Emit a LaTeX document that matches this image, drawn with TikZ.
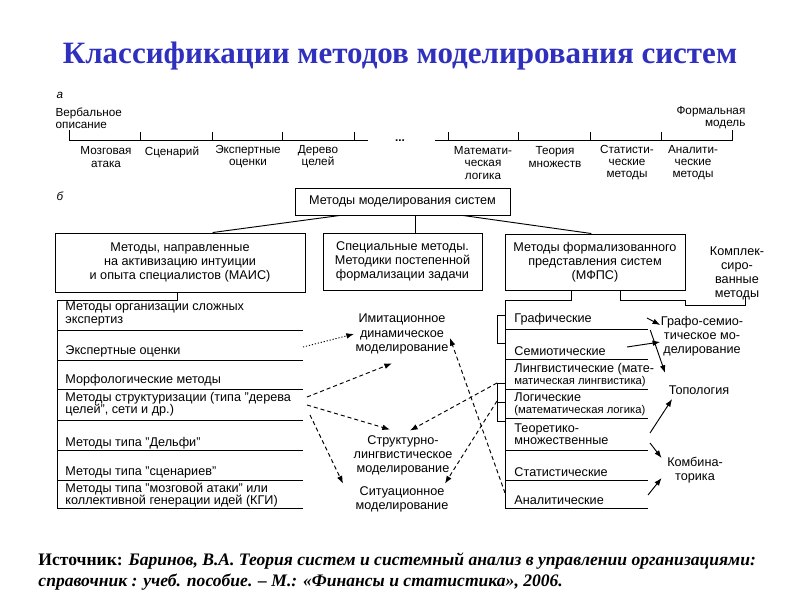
\documentclass[tikz,border=0pt]{standalone}
\usepackage{fontspec}
\setmainfont{Liberation Sans}
\newfontfamily\srf{Liberation Serif}
\usetikzlibrary{arrows.meta,calc}
\definecolor{ttlblue}{RGB}{48,48,190}
\newcommand\dgf{\fontsize{10.8}{12}\selectfont}
\newcommand\dgs{\fontsize{10.8}{10.4}\selectfont}
\newcommand\dga{\fontsize{10}{10.3}\selectfont}
\newcommand\dgm{\fontsize{9.6}{10.2}\selectfont}
\tikzset{
  >={Latex[length=2.3mm,width=1.7mm]},
  bx/.style 2 args={draw,minimum width=#1*0.3mm,minimum height=#2*0.3mm,align=center,inner sep=1pt,font=\dgf},
  al/.style={align=center,inner sep=1pt,font=\dga},
  rw/.style={anchor=west,align=left,inner sep=0pt,font=\dgs},
  ml/.style={align=center,inner sep=1pt,font=\dgf},
  da/.style={->,dash pattern=on 3.5pt off 2.5pt},
  every picture/.style={line width=0.8pt},
}
\begin{document}
\begin{tikzpicture}[x=0.3mm,y=-0.3mm]
\useasboundingbox (0,0) rectangle (800,600);
\node[font=\srf\bfseries\fontsize{26.5}{30}\selectfont,text=ttlblue] (title) at (400,56) {Классификации методов моделирования систем};

\node[al,font=\dga\itshape] (pa) at (60,95) {а};
\node[al,anchor=west,align=left] (verb) at (54,118) {Вербальное\\описание};
\node[al,anchor=east,align=right] (form) at (747,118) {Формальная\\модель};
\draw (69,130)--(69,140)--(368,140); \foreach \x in {140,212,282,354} \draw (\x,140)--(\x,132);
\draw (435,140)--(732,140)--(732,130); \foreach \x in {448,518,590,661} \draw (\x,140)--(\x,132);
\node[font=\bfseries,anchor=base] (dots) at (400,142) {...};
\node[al] (mz) at (106,157) {Мозговая\\атака}; \node[al] (sc) at (172,152) {Сценарий};
\node[al] (ex) at (248,157) {Экспертные\\оценки}; \node[al] (dr) at (318,157) {Дерево\\целей};
\node[al] (ml) at (483,163) {Математи-\\ческая\\логика}; \node[al] (tm) at (555,157) {Теория\\множеств};
\node[al] (st) at (627,163) {Статисти-\\ческие\\методы}; \node[al] (an) at (693,163) {Аналити-\\ческие\\методы};

\node[al,font=\dga\itshape] (pb) at (60,196) {б};
\node[bx={215}{27}] (top) at (402.5,201.5) {Методы моделирования систем};
\node[bx={250}{59}] (mais) at (180,262.5) {Методы, направленные\\на активизацию интуиции\\и опыта специалистов (МАИС)};
\node[bx={159}{57}] (spec) at (402.5,261.5) {Специальные методы.\\Методики постепенной\\формализации задачи};
\node[bx={180}{56}] (mfps) at (595,262) {Методы формализованного\\представления систем\\(МФПС)};
\node[ml] (kompl) at (737,273) {Комплек-\\сиро-\\ванные\\методы};
\draw ($(top.south west)!.21!(top.south east)$) -- ($(mais.north west)!.63!(mais.north east)$);
\draw ($(top.south west)!.56!(top.south east)$) coordinate (t2) -- (t2 |- spec.north);
\draw ($(top.south west)!.78!(top.south east)$) -- ($(mfps.north west)!.48!(mfps.north east)$);

\coordinate (lt) at (57,300); \coordinate (rt) at (505,300);
\draw ($(mais.south west)!.49!(mais.south east)$) coordinate (m1) -- (m1 |- lt) -- (lt) -- (57,508);
\foreach \y in {330,360,389,420,450,480,508} \draw (57,\y)--(303,\y);
\node[rw] (l1) at (65,314) {Методы организации сложных\\экспертиз};
\node[rw] (l2) at (65,351) {Экспертные оценки};
\node[rw] (l3) at (65,380) {Морфологические методы};
\node[rw] (l4) at (65,404) {Методы структуризации (типа "дерева\\целей", сети и др.)};
\node[rw] (l5) at (65,443) {Методы типа "Дельфи"};
\node[rw] (l6) at (65,472) {Методы типа "сценариев"};
\node[rw] (l7) at (65,495) {Методы типа "мозговой атаки" или\\коллективной генерации идей (КГИ)};

\draw ($(mfps.south west)!.37!(mfps.south east)$) coordinate (f1) -- (f1 |- rt) -- (rt) -- (505,508);
\draw ($(mfps.south west)!.64!(mfps.south east)$) coordinate (f2) -- (f2 |- rt) -- (685,300) -- (685,305) -- (745,305) -- (745,297);
\foreach \y in {329,359,389,418,450,480,508} \draw (505,\y)--(648,\y);
\draw (505,315)--(497,315)--(497,343)--(505,343); \draw (505,383)--(497,383)--(497,421)--(505,421); \draw (497,402)--(505,402);
\node[rw] (g1) at (514,319) {Графические};
\node[rw] (g2) at (514,351) {Семиотические};
\node[rw] (g3) at (514,375) {Лингвистические (мате-\\{\dgm матическая лингвистика)}};
\node[rw] (g4) at (514,404) {Логические\\{\dgm (математическая логика)}};
\node[rw] (g5) at (514,434) {Теоретико-\\множественные};
\node[rw] (g6) at (514,472) {Статистические};
\node[rw] (g7) at (514,500) {Аналитические};

\node[ml] (imit) at (402,334) {Имитационное\\динамическое\\моделирование};
\node[ml] (strk) at (403,455) {Структурно-\\лингвистическое\\моделирование};
\node[ml] (sit) at (402,499) {Ситуационное\\моделирование};
\node[ml] (grs) at (702,336) {Графо-семио-\\тическое мо-\\делирование};
\node[ml] (topo) at (699,390) {Топология};
\node[ml] (komb) at (695,470) {Комбина-\\торика};

\coordinate (s1) at (303,347); \coordinate (s2) at (307,397); \coordinate (s3) at (307,405);
\coordinate (s4) at (310,415); \coordinate (s5) at (505,493);
\coordinate (bk1) at (497,383); \coordinate (bk2) at (497,401);
\draw[->,dash pattern=on 1pt off 1.6pt] (s1) -- (imit.west);
\draw[da] (s2) -- ($(imit.south)+(-10,8)$);
\draw[da] (s3) -- ($(strk.north)+(-13,-4)$);
\draw[da] (s4) -- ($(sit.north west)+(-11,-1)$);
\draw[da] (bk1) -- ($(strk.north)+(7,-3)$);
\draw[da] (bk2) -- ($(sit.north east)+(-5,-1)$);
\draw[da] (s5) -- ($(imit.east)+(0,4)$);

\coordinate (e1) at (647,318); \coordinate (e2) at (627,347); \coordinate (e4) at (650,433);
\coordinate (e5) at (650,443); \coordinate (e6) at (648,495);
\draw[->] (e1) -- ($(grs.west)+(1,-11)$); \draw[->] (e2) -- ($(grs.west)+(1,6)$);
\draw[->] ($(grs.west)+(-9,-6)$) -- ($(topo.north west)+(-2,-11)$);
\draw[->] (e4) -- ($(topo.south west)+(5,3)$);
\draw[->] (e5) -- ($(komb.west)+(-4,-12)$); \draw[->] (e6) -- ($(komb.west)+(-4,8)$);

\node[anchor=north west,align=left,inner sep=0pt,font=\srf\bfseries\fontsize{15}{18}\selectfont] (src) at (38,552) {Источник: \textit{Баринов, В.А. Теория систем и системный анализ в управлении организациями:}\\\textit{справочник : учеб. пособие. – М.: «Финансы и статистика», 2006.}};
\end{tikzpicture}
\end{document}
